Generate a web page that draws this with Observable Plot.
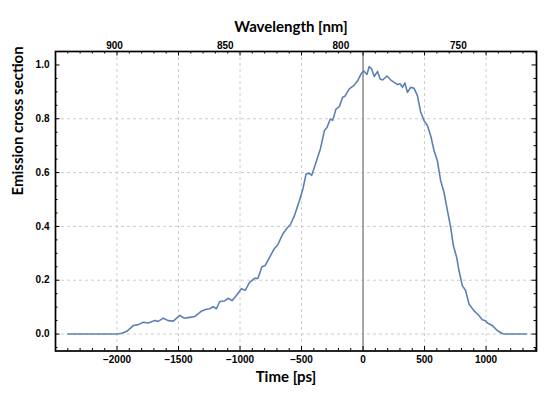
<!DOCTYPE html>
<html>
<head>
<meta charset="utf-8">
<script src="https://cdn.jsdelivr.net/npm/d3@7"></script>
<script src="https://cdn.jsdelivr.net/npm/@observablehq/plot@0.6"></script>
<style>
  html, body { margin: 0; padding: 0; background: #ffffff; }
  #chart svg { display: block; }
</style>
</head>
<body>
<div id="chart"></div>
<script>
// ---- Data ----
const timePs = [
  -2400, -2000, -1960, -1921, -1890, -1867, -1827, -1786, -1746, -1692,
  -1665, -1624, -1584, -1543, -1489, -1454, -1408, -1368, -1314, -1281,
  -1246, -1219, -1192, -1165, -1125, -1097, -1065, -1030, -989, -957,
  -922, -882, -854, -822, -795, -760, -720, -692, -652, -617,
  -590, -558, -517, -489, -463, -436, -417, -382, -347, -314,
  -293, -266, -246, -220, -193, -166, -147, -112, -76, -44,
  -17, 5, 23, 32, 50, 70, 91, 118, 139, 159,
  194, 226, 253, 280, 301, 321, 340, 361, 388, 415,
  442, 469, 496, 523, 550, 577, 604, 631, 658, 686,
  712, 734, 761, 780, 807, 834, 861, 901, 942, 969,
  996, 1015, 1050, 1091, 1131, 1150, 1330
];
const emission = [
  0, 0, 0.003, 0.010, 0.022, 0.032, 0.035, 0.044, 0.041, 0.050,
  0.047, 0.059, 0.050, 0.048, 0.069, 0.059, 0.062, 0.065, 0.085, 0.091,
  0.094, 0.102, 0.094, 0.121, 0.123, 0.133, 0.124, 0.143, 0.168, 0.163,
  0.192, 0.207, 0.207, 0.250, 0.255, 0.285, 0.318, 0.333, 0.372, 0.394,
  0.407, 0.440, 0.496, 0.539, 0.595, 0.597, 0.590, 0.638, 0.688, 0.756,
  0.768, 0.799, 0.794, 0.836, 0.845, 0.880, 0.884, 0.911, 0.923, 0.941,
  0.966, 0.978, 0.969, 0.965, 0.994, 0.985, 0.957, 0.976, 0.948, 0.944,
  0.959, 0.944, 0.935, 0.927, 0.930, 0.917, 0.933, 0.898, 0.917, 0.913,
  0.886, 0.824, 0.793, 0.775, 0.737, 0.682, 0.644, 0.570, 0.527, 0.459,
  0.397, 0.329, 0.285, 0.236, 0.180, 0.162, 0.112, 0.087, 0.069, 0.053,
  0.049, 0.040, 0.032, 0.013, 0.002, 0, 0
];
const timeTicks = [-2000, -1500, -1000, -500, 0, 500, 1000];
const timeGrid = [-2000, -1500, -1000, -500, 500, 1000];
const yTicks = [0, 0.2, 0.4, 0.6, 0.8, 1.0];
const yGrid = [0, 0.2, 0.4, 0.6, 0.8];
const wavelengthLabels = ["900", "850", "800", "750"];
const wavelengthAtTime = [-2020, -1120, -180, 775];
const xTitle = "Time [ps]";
const yTitle = "Emission cross section";
const topTitle = "Wavelength [nm]";

// ---- Layout ----
const W = 550, H = 395;
const mt = 51, mb = 44.5, ml = 55, mr = 14;
const fh = H - mt - mb, fw = W - ml - mr;
const majorLen = 4.5, minorLen = 2.5;

const xMinor = d3.range(-2500, 1401, 100).filter(d => d % 500 !== 0);
const yMinor = d3.range(-0.05, 1.051, 0.05).map(d => +d.toFixed(2)).filter(d => Math.abs(d * 5 - Math.round(d * 5)) > 1e-6);

const rows = timePs.map((t, i) => ({t, v: emission[i]}));
const titleFont = "Lato, 'Open Sans', sans-serif";
const tickFont = "'Liberation Sans', Arial, sans-serif";
const fmtTime = d => (d < 0 ? "\u2212" : "") + Math.abs(d);

const chart = Plot.plot({
  width: W, height: H,
  marginTop: mt, marginBottom: mb, marginLeft: ml, marginRight: mr,
  x: {domain: [-2500, 1410], label: null},
  y: {domain: [-0.063, 1.05], label: null},
  style: {background: "#ffffff", fontFamily: tickFont, fontSize: "10px", fontWeight: "bold", color: "#000"},
  marks: [
    Plot.ruleX(timeGrid, {stroke: "#cdcdcd", strokeDasharray: "3,3", strokeWidth: 1}),
    Plot.ruleY(yGrid, {stroke: "#cdcdcd", strokeDasharray: "3,3", strokeWidth: 1}),
    Plot.ruleX([0], {stroke: "#8a8a8a", strokeWidth: 1.5}),
    Plot.line(rows, {x: "t", y: "v", stroke: "#5e81b5", strokeWidth: 1.6, curve: "linear"}),
    // major / minor ticks pointing inward (bottom, top, left, right)
    Plot.tickX(timeTicks, {x: d => d, insetTop: fh - majorLen, stroke: "#000", strokeWidth: 1}),
    Plot.tickX(xMinor, {x: d => d, insetTop: fh - minorLen, stroke: "#000", strokeWidth: 1}),
    Plot.tickX(timeTicks, {x: d => d, insetBottom: fh - majorLen, stroke: "#000", strokeWidth: 1}),
    Plot.tickX(xMinor, {x: d => d, insetBottom: fh - minorLen, stroke: "#000", strokeWidth: 1}),
    Plot.tickY(yTicks, {y: d => d, insetRight: fw - majorLen, stroke: "#000", strokeWidth: 1}),
    Plot.tickY(yMinor, {y: d => d, insetRight: fw - minorLen, stroke: "#000", strokeWidth: 1}),
    Plot.tickY(yTicks, {y: d => d, insetLeft: fw - majorLen, stroke: "#000", strokeWidth: 1}),
    Plot.tickY(yMinor, {y: d => d, insetLeft: fw - minorLen, stroke: "#000", strokeWidth: 1}),
    // axis labels
    Plot.axisX(timeTicks, {anchor: "bottom", tickSize: 0, tickPadding: 4.5, label: null,
      tickFormat: fmtTime, fontSize: 10, fontWeight: "bold", fontFamily: tickFont}),
    Plot.axisY(yTicks, {anchor: "left", tickSize: 0, tickPadding: 6, label: null,
      tickFormat: d => d.toFixed(1), fontSize: 10, fontWeight: "bold", fontFamily: tickFont}),
    Plot.axisX(wavelengthAtTime, {anchor: "top", tickSize: 0, tickPadding: 2.5, label: null,
      tickFormat: d => wavelengthLabels[wavelengthAtTime.indexOf(d)],
      fontSize: 10, fontWeight: "bold", fontFamily: tickFont}),
    Plot.frame({stroke: "#000", strokeWidth: 1.7}),
    // titles
    Plot.text([topTitle], {frameAnchor: "top", dx: -5, dy: -30, fontSize: 15, fontWeight: "bold", fontFamily: titleFont, fill: "#000"}),
    Plot.text([xTitle], {frameAnchor: "bottom", dx: -10, dy: 31, fontSize: 15, fontWeight: "bold", fontFamily: titleFont, fill: "#000"}),
    Plot.text([yTitle], {frameAnchor: "left", rotate: -90, dx: -37.5, dy: -5.75, fontSize: 15, fontWeight: "bold", fontFamily: titleFont, fill: "#000"})
  ]
});
document.getElementById("chart").appendChild(chart);
</script>
</body>
</html>
